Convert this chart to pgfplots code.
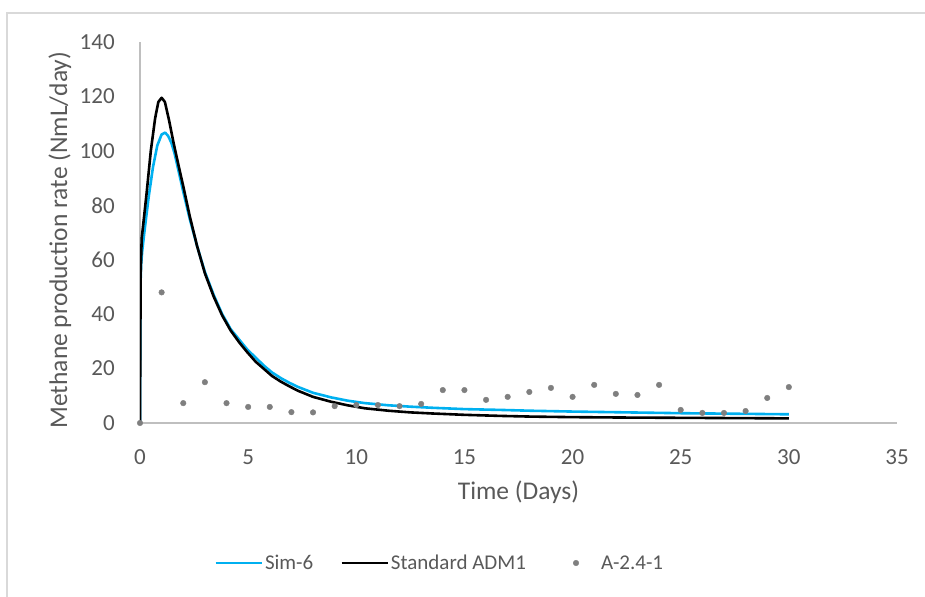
\documentclass[border=0pt]{standalone}
\usepackage{fontspec}
\setmainfont{Carlito}
\usepackage{pgfplots}
\pgfplotsset{compat=1.18}
\definecolor{textgrey}{HTML}{595959}
\definecolor{axisgrey}{HTML}{BFBFBF}
\definecolor{framegrey}{HTML}{D9D9D9}
\definecolor{simblue}{HTML}{00B0F0}
\definecolor{markgrey}{HTML}{7F7F7F}
\begin{document}
\begin{tikzpicture}
\useasboundingbox (0,0) rectangle (925bp,597bp);
\draw[framegrey, line width=1.2bp] (7bp,0) -- (7bp,584bp) -- (926bp,584bp);
\begin{axis}[
  at={(140bp,174bp)}, anchor=south west,
  scale only axis, width=757bp, height=381bp,
  xmin=0, xmax=35, ymin=0, ymax=140,
  axis lines=left,
  axis line style={draw=axisgrey, line width=1.2bp, -},
  xtick={0,5,...,35}, ytick={0,20,...,140},
  major tick style={draw=none},
  /pgf/number format/assume math mode=true,
  xticklabel style={font=\fontsize{23bp}{27bp}\selectfont, text=textgrey, anchor=north, inner sep=0pt, yshift=-24bp},
  yticklabel style={font=\fontsize{23bp}{27bp}\selectfont, text=textgrey, anchor=east, inner sep=0pt, xshift=-23bp},
  xlabel={Time (Days)},
  ylabel={Methane production rate (NmL/day)},
  xlabel style={font=\fontsize{25.5bp}{30bp}\selectfont, text=textgrey, at={(axis description cs:0.5,0)}, anchor=base, inner sep=0pt, yshift=-76.5bp},
  ylabel style={font=\fontsize{25.5bp}{30bp}\selectfont, text=textgrey, at={(axis description cs:-0.0964,0.48)}, anchor=base, inner sep=0pt, rotate=0},
  legend columns=3,
  legend style={draw=none, fill=none, at={(axis description cs:0.396,-0.3675)}, anchor=center,
    font=\fontsize{21bp}{25bp}\selectfont, text=textgrey,
    nodes={inner sep=2bp},
    /tikz/every even column/.append style={column sep=25bp}},
  legend image code/.code={\path[draw=none,fill=none] (0bp,-3bp) rectangle (46bp,3bp);\draw[mark repeat=2,mark phase=2,#1] plot coordinates {(0bp,0bp) (23bp,0bp) (46bp,0bp)};},
]
\addplot[simblue, line width=2.6bp, line join=round] coordinates {
(0,0) (0.02,50) (0.05,58) (0.1,63) (0.2,70) (0.4,83) (0.6,94) (0.8,102) (1.0,106) (1.16,106.7) (1.3,105.5) (1.45,103) (1.6,99) (1.8,92) (2.0,85) (2.3,75) (2.64,65) (3.0,55.5) (3.41,47) (3.8,40) (4.19,34.5) (4.6,30.5) (4.96,27) (5.35,24) (5.74,21) (6.1,18.6) (6.51,16.5) (6.9,14.8) (7.29,13.3) (8.0,11.1) (8.84,9.4) (9.6,8.2) (10.4,7.3) (11.5,6.5) (12.5,6.0) (13.5,5.6) (15,5.1) (16.7,4.8) (18.1,4.5) (20,4.2) (22.5,3.9) (25,3.6) (27.5,3.4) (30,3.2)
};
\addlegendentry{Sim-6}
\addplot[black, line width=2.6bp, line join=round] coordinates {
(0,0) (0.03,55) (0.08,68) (0.15,73) (0.3,84) (0.5,100) (0.7,112) (0.85,118) (1.0,119.5) (1.15,118) (1.35,111) (1.55,103) (1.8,94) (2.0,87) (2.3,76) (2.64,65) (3.0,55) (3.41,46.4) (3.8,39.5) (4.19,34) (4.6,29.5) (4.96,26) (5.35,22.5) (5.74,19.8) (6.1,17.3) (6.51,15.2) (6.9,13.5) (7.29,11.9) (8.0,9.6) (8.84,7.8) (9.6,6.5) (10.4,5.4) (11.5,4.5) (12.5,3.9) (13.5,3.5) (15,3.0) (16.7,2.6) (18.1,2.35) (20,2.15) (22.5,2.0) (25,1.9) (27.5,1.8) (30,1.7)
};
\addlegendentry{Standard ADM1}
\addplot[only marks, mark=*, mark size=2.8bp, markgrey] coordinates {
(0,0) (1,48) (2,7.3) (3,15) (4,7.3) (5,5.9) (6,5.9) (7,4) (8,3.9) (9,6.2) (10,6.6) (11,6.6) (12,6.2) (13,7.0) (14,12.1) (15,12.1) (16,8.5) (17,9.6) (18,11.4) (19,12.9) (20,9.6) (21,14.0) (22,10.7) (23,10.3) (24,14.0) (25,4.8) (26,3.7) (27,3.7) (28,4.4) (29,9.2) (30,13.2)
};
\addlegendentry{A-2.4-1}
\end{axis}
\end{tikzpicture}
\end{document}
